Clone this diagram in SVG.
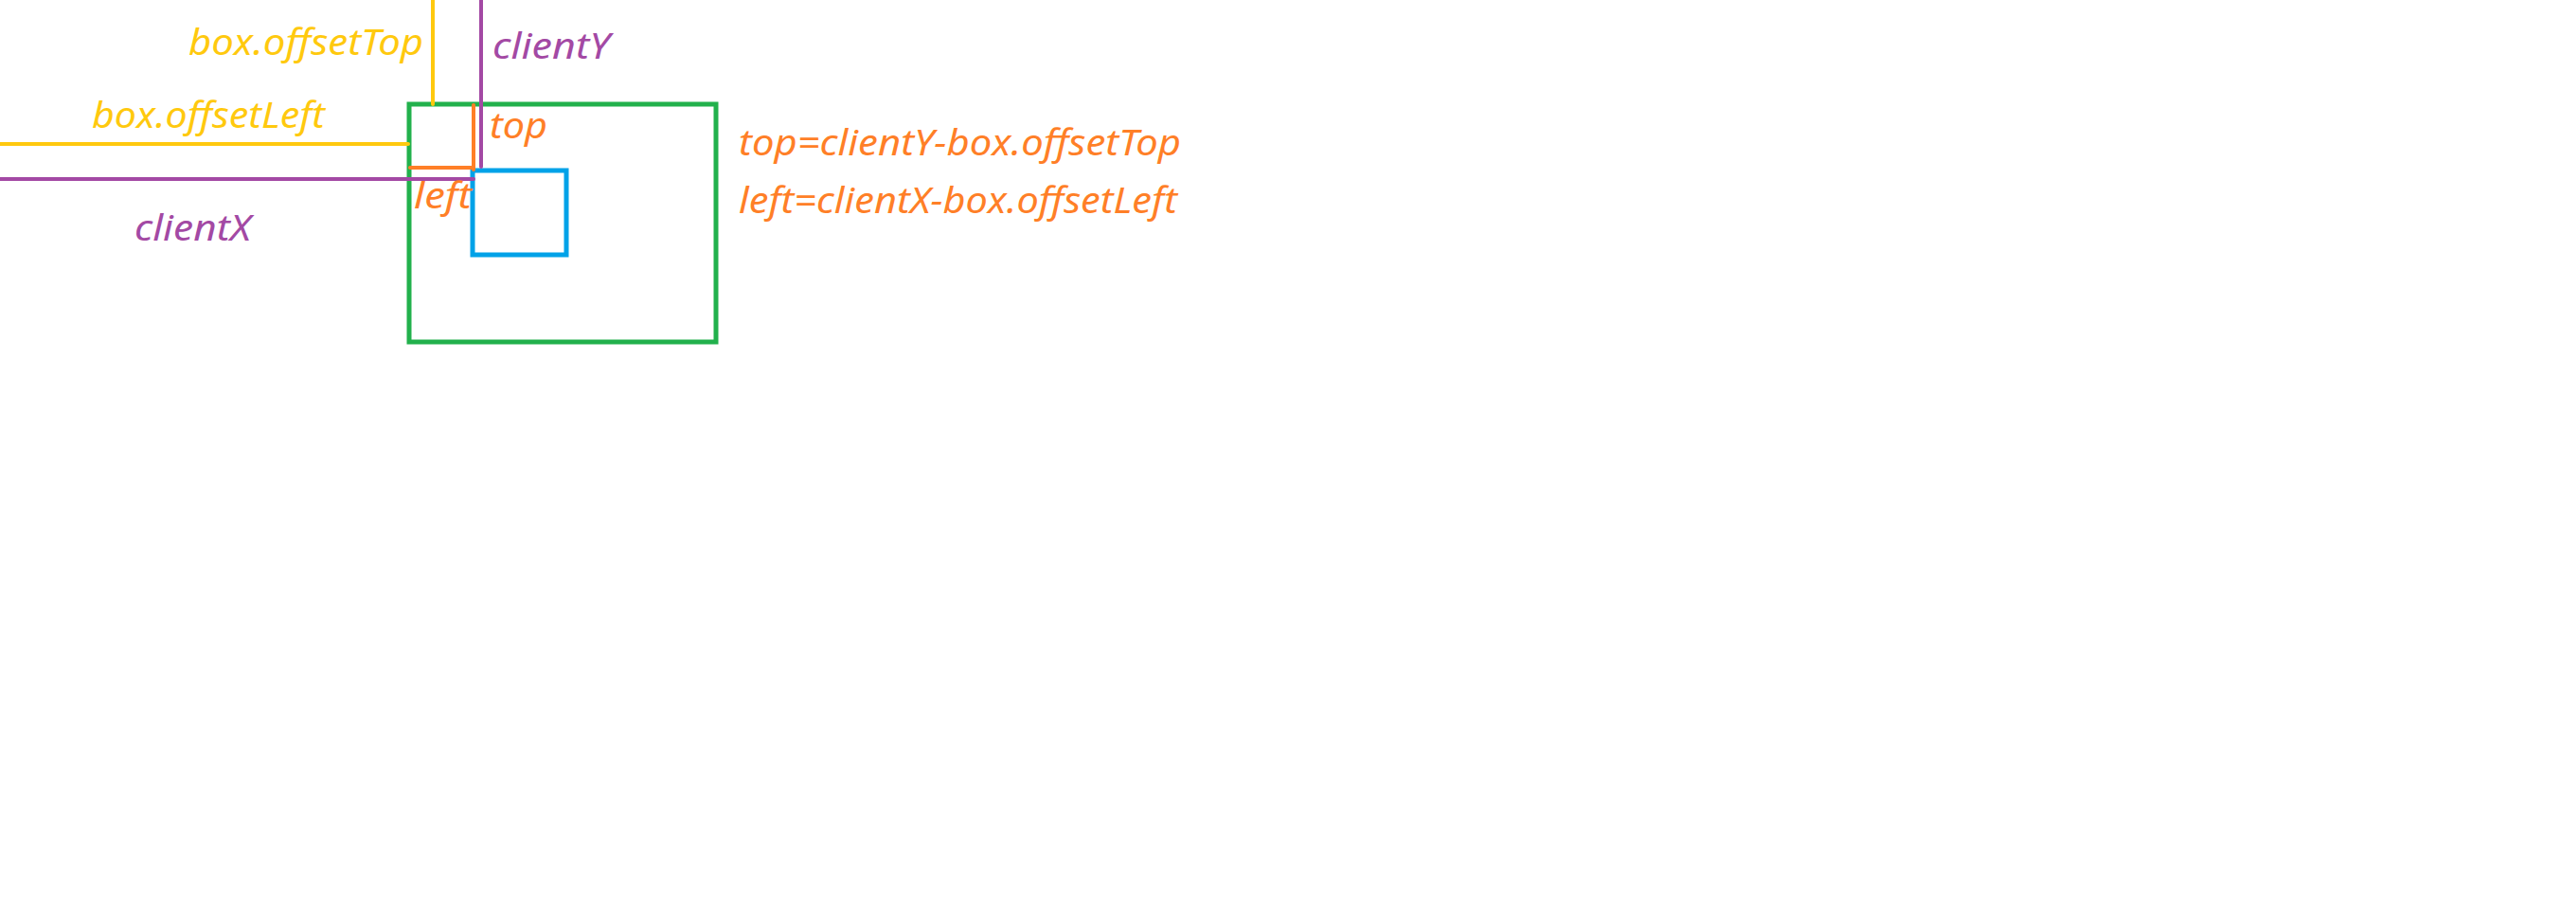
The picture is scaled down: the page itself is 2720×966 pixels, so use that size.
<svg xmlns="http://www.w3.org/2000/svg" width="2720" height="966" viewBox="0 0 2720 966">
<style>
text{font-family:"Noto Sans","Open Sans","Liberation Sans",sans-serif;font-style:italic;font-size:38px}
.ln{fill:none;stroke-width:4;stroke-linecap:round}
.y{stroke:#ffc90e}.p{stroke:#a349a4}.o{stroke:#ff7f27}
.ty{fill:#ffc90e}.tp{fill:#a349a4}.to{fill:#ff7f27}
</style>
<rect width="2720" height="966" fill="#ffffff"/>
<g id="outer-box"><rect x="432" y="110" width="324" height="251" fill="none" stroke="#22b14c" stroke-width="5"/></g>
<g id="inner-box"><rect x="499" y="180" width="99" height="89" fill="none" stroke="#00a2e8" stroke-width="5"/></g>
<g id="connectors">
<line class="ln y" x1="457" y1="-4" x2="457" y2="110"/>
<line class="ln y" x1="-4" y1="152" x2="431" y2="152"/>
<line class="ln p" x1="508" y1="-4" x2="508" y2="176"/>
<line class="ln p" x1="-4" y1="189" x2="500" y2="189"/>
<line class="ln o" x1="500" y1="111" x2="500" y2="179"/>
<line class="ln o" x1="433" y1="177" x2="500" y2="177"/>
</g>
<g id="labels">
<text class="ty" x="199" y="58" textLength="248" lengthAdjust="spacingAndGlyphs">box.offsetTop</text>
<text class="tp" x="520" y="62" textLength="124" lengthAdjust="spacingAndGlyphs">clientY</text>
<text class="ty" x="97" y="135" textLength="246" lengthAdjust="spacingAndGlyphs">box.offsetLeft</text>
<text class="to" x="517" y="146" textLength="61" lengthAdjust="spacingAndGlyphs">top</text>
<text class="to" x="437" y="220" textLength="61" lengthAdjust="spacingAndGlyphs">left</text>
<text class="tp" x="142" y="254" textLength="123" lengthAdjust="spacingAndGlyphs">clientX</text>
<text class="to" x="780" y="164" textLength="467" lengthAdjust="spacingAndGlyphs">top=clientY-box.offsetTop</text>
<text class="to" x="780" y="225" textLength="463" lengthAdjust="spacingAndGlyphs">left=clientX-box.offsetLeft</text>
</g>
</svg>
